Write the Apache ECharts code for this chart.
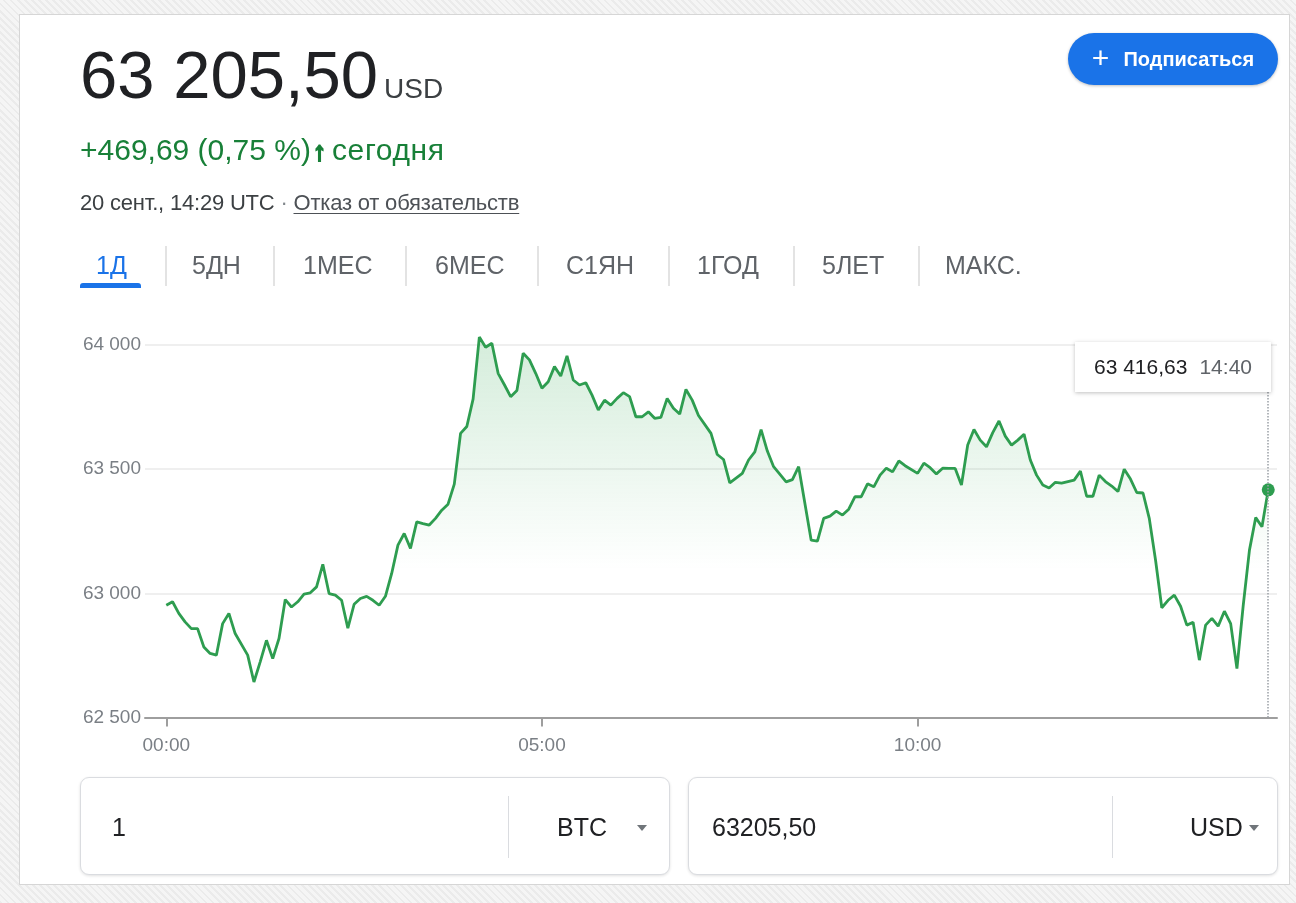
<!DOCTYPE html>
<html lang="ru">
<head>
<meta charset="utf-8">
<title>BTC / USD</title>
<script src="https://cdn.jsdelivr.net/npm/echarts@6/dist/echarts.min.js"></script>
<style>
  html, body { margin: 0; padding: 0; }
  body {
    width: 1296px; height: 903px; position: relative; overflow: hidden;
    font-family: "Liberation Sans", Arial, sans-serif;
    background: repeating-linear-gradient(45deg, #ebebeb 0 2px, #f5f5f5 2px 5px);
  }
  .card { position: absolute; left: 19px; top: 14px; width: 1271px; height: 871px;
    background: #fff; border: 1px solid #d6d6d6; box-sizing: border-box; }
  #chart { position: absolute; left: 0; top: 0; width: 1296px; height: 903px; }
  .t { position: absolute; line-height: 1; white-space: nowrap; }
  .price { left: 80px; top: 41px; font-size: 67px; color: #202124; }
  .price span { font-size: 28px; color: #3c4043; margin-left: 6px; }
  .change { left: 80px; top: 135px; font-size: 30px; color: #188038; }
  .change b { -webkit-text-stroke: 2px #188038; font-size: 26px; margin: 0 6px 0 2px; }
  .change .d { letter-spacing: 0.6px; }
  .date { left: 80px; top: 192px; font-size: 22px; color: #3c4043; letter-spacing: -0.2px; }
  .date .dot { color: #80868b; }
  .date u { color: #4d5156; text-decoration-thickness: 1px; text-underline-offset: 3px; }
  .tab { top: 253px; font-size: 25px; color: #5f6368; }
  .tab.on { color: #1a73e8; }
  .sep { position: absolute; top: 246px; width: 2px; height: 40px; background: #e3e3e3; }
  .bar { position: absolute; left: 80px; top: 283px; width: 61px; height: 5px;
    background: #1a73e8; border-radius: 3px 3px 0 0; }
  .btn { position: absolute; left: 1068px; top: 33px; width: 210px; height: 52px;
    border-radius: 26px; background: #1a73e8; color: #fff; box-shadow: 0 1px 3px rgba(0,0,0,.25);
    display: flex; align-items: center; justify-content: center; font-size: 20px; font-weight: bold; }
  .btn .plus { font-size: 30px; font-weight: normal; margin-right: 14px; margin-top: -3px; }
  .tip { position: absolute; left: 1075px; top: 342px; width: 196px; height: 50px; background: #fff;
    box-shadow: 0 1px 4px rgba(0,0,0,.25); display: flex; align-items: center; justify-content: center;
    font-size: 21px; color: #202124; }
  .tip .tm { color: #5f6368; margin-left: 12px; }
  .box { position: absolute; top: 777px; width: 590px; height: 98px; border: 1px solid #dadce0;
    border-radius: 9px; box-sizing: border-box; background: #fff; box-shadow: 0 1px 3px rgba(0,0,0,.12); }
  .box .v { position: absolute; top: 37px; font-size: 25px; color: #202124; line-height: 1; }
  .box .dv { position: absolute; top: 18px; width: 1px; height: 62px; background: #dadce0; }
  .box .arr { position: absolute; top: 47px; width: 0; height: 0;
    border-left: 5px solid transparent; border-right: 5px solid transparent; border-top: 6px solid #70757a; }
</style>
</head>
<body>
<div class="card"></div>
<div id="chart"></div>

<div class="t price">63 205,50<span>USD</span></div>
<div class="t change">+469,69 (0,75 %)<b>↑</b><span class="d">сегодня</span></div>
<div class="t date">20 сент., 14:29 UTC <span class="dot">·</span> <u>Отказ от обязательств</u></div>

<div class="t tab on" style="left:96px">1Д</div>
<div class="t tab" style="left:192px">5ДН</div>
<div class="t tab" style="left:303px">1МЕС</div>
<div class="t tab" style="left:435px">6МЕС</div>
<div class="t tab" style="left:566px">С1ЯН</div>
<div class="t tab" style="left:697px">1ГОД</div>
<div class="t tab" style="left:822px">5ЛЕТ</div>
<div class="t tab" style="left:945px">МАКС.</div>
<div class="sep" style="left:165px"></div>
<div class="sep" style="left:273px"></div>
<div class="sep" style="left:405px"></div>
<div class="sep" style="left:537px"></div>
<div class="sep" style="left:668px"></div>
<div class="sep" style="left:793px"></div>
<div class="sep" style="left:918px"></div>
<div class="bar"></div>

<div class="btn"><span class="plus">+</span>Подписаться</div>

<div class="tip"><span id="tipPrice"></span><span class="tm" id="tipTime"></span></div>

<div class="box" style="left:80px">
  <div class="v" style="left:31px">1</div>
  <div class="dv" style="left:427px"></div>
  <div class="v" style="left:476px">BTC</div>
  <div class="arr" style="left:556px"></div>
</div>
<div class="box" style="left:688px">
  <div class="v" style="left:23px">63205,50</div>
  <div class="dv" style="left:423px"></div>
  <div class="v" style="left:501px">USD</div>
  <div class="arr" style="left:560px"></div>
</div>

<script>
// BTC/USD intraday, 20 Sept, 5-minute points (UTC)
var times = [
  '00:00','00:05','00:10','00:15','00:20','00:25','00:30','00:35','00:40','00:45','00:50','00:55',
  '01:05','01:10','01:15','01:20','01:25','01:30','01:35','01:40','01:45','01:50','01:55',
  '02:00','02:05','02:10','02:15','02:20','02:25','02:30','02:35','02:40','02:45','02:50','02:55',
  '03:00','03:05','03:10','03:15','03:20','03:25','03:30','03:35','03:40','03:45','03:50','03:55',
  '04:00','04:05','04:10','04:15','04:20','04:25','04:30','04:35','04:40','04:45','04:50','04:55',
  '05:00','05:05','05:10','05:15','05:20','05:25','05:30','05:35','05:40','05:45','05:50','05:55',
  '06:00','06:05','06:10','06:15','06:20','06:25','06:30','06:35','06:40','06:45','06:50','06:55',
  '07:00','07:05','07:15','07:20','07:25','07:30','07:40','07:45','07:50','07:55',
  '08:00','08:05','08:15','08:20','08:25','08:35','08:40','08:45','08:50','08:55',
  '09:00','09:05','09:10','09:15','09:20','09:25','09:30','09:35','09:40','09:45','09:50',
  '10:00','10:05','10:10','10:15','10:20','10:25','10:30','10:35','10:40','10:45','10:50','10:55',
  '11:00','11:05','11:10','11:15','11:20','11:25','11:30','11:35','11:40','11:45','11:50','11:55',
  '12:00','12:05','12:10','12:15','12:20','12:25','12:30','12:35','12:40','12:45','12:50','12:55',
  '13:00','13:05','13:10','13:15','13:20','13:25','13:30','13:35','13:40','13:45','13:50','13:55',
  '14:00','14:05','14:10','14:15','14:20','14:25','14:30','14:35','14:40'
];
var prices = [
  62952,62966,62919,62885,62858,62858,62784,62758,62751,62878,62919,62838,
  62751,62643,62724,62811,62737,62818,62975,62945,62966,62997,63002,
  63026,63117,62999,62993,62972,62860,62956,62979,62988,62972,62952,62988,
  63080,63194,63241,63181,63288,63281,63275,63302,63335,63359,63440,63644,
  63672,63782,64032,63991,64007,63886,63840,63792,63817,63967,63940,63886,
  63826,63852,63913,63875,63956,63859,63839,63848,63798,63738,63778,63758,
  63785,63808,63792,63711,63711,63731,63705,63709,63785,63745,63722,63821,
  63778,63716,63644,63559,63539,63445,63483,63537,63570,63659,
  63573,63510,63449,63458,63510,63214,63210,63302,63311,63331,
  63315,63339,63389,63389,63441,63429,63476,63504,63489,63533,63514,
  63483,63524,63506,63481,63504,63503,63503,63436,63597,63660,63617,63590,
  63647,63694,63633,63597,63617,63641,63537,63476,63436,63424,63447,63444,
  63450,63456,63492,63391,63391,63476,63450,63432,63410,63500,63460,63406,
  63404,63302,63134,62942,62972,62993,62948,62872,62884,62731,62872,62899,
  62868,62928,62878,62697,62950,63174,63305,63268,63416.63
];
var xTickLabels = ['00:00', '05:00', '10:00'];
var yTicks = [62500, 63000, 63500, 64000];

function toMin(s) { var p = s.split(':'); return +p[0] * 60 + +p[1]; }
function toHHMM(m) {
  var h = Math.floor(m / 60), mm = m % 60;
  return (h < 10 ? '0' : '') + h + ':' + (mm < 10 ? '0' : '') + mm;
}
function groupInt(n) { return String(Math.floor(n)).replace(/\B(?=(\d{3})+(?!\d))/g, ' '); }
function fmtPrice(v) {
  var cents = Math.round((v - Math.floor(v)) * 100);
  return groupInt(v) + ',' + (cents < 10 ? '0' : '') + cents;
}

var seriesData = times.map(function (t, i) { return [toMin(t), prices[i]]; });
var last = seriesData.length - 1;
var tickMins = xTickLabels.map(toMin);

document.getElementById('tipPrice').textContent = fmtPrice(prices[last]);
document.getElementById('tipTime').textContent = times[last];

var chart = echarts.init(document.getElementById('chart'));
chart.setOption({
  animation: false,
  grid: { left: 145, right: 19, top: 345, bottom: 185.5 },
  xAxis: {
    type: 'value',
    min: -17,
    max: 887,
    splitLine: { show: false },
    axisLine: { lineStyle: { color: '#9e9e9e', width: 2 } },
    axisTick: { customValues: tickMins, length: 9, lineStyle: { color: '#9e9e9e', width: 2 } },
    axisLabel: {
      customValues: tickMins,
      formatter: function (v) { return toHHMM(v); },
      color: '#7a7f85', fontSize: 19, margin: 19,
      fontFamily: 'Liberation Sans'
    }
  },
  yAxis: {
    type: 'value',
    min: yTicks[0],
    max: yTicks[yTicks.length - 1],
    interval: 500,
    axisLine: { show: false },
    axisTick: { show: false },
    axisLabel: {
      formatter: function (v) { return groupInt(v); },
      color: '#7a7f85', fontSize: 19, margin: 4,
      fontFamily: 'Liberation Sans'
    },
    splitLine: { lineStyle: { color: '#efefef', width: 2 } }
  },
  series: [{
    type: 'line',
    data: seriesData,
    clip: false,
    showSymbol: true,
    showAllSymbol: true,
    symbol: 'circle',
    symbolSize: function (v, p) { return p.dataIndex === last ? 13 : 0; },
    itemStyle: { color: '#2e9d50' },
    lineStyle: { color: '#2e9d50', width: 2.8 },
    areaStyle: {
      origin: 'start',
      color: {
        type: 'linear', x: 0, y: 335, x2: 0, y2: 570, global: true,
        colorStops: [
          { offset: 0, color: 'rgba(52,168,83,0.30)' },
          { offset: 1, color: 'rgba(52,168,83,0)' }
        ]
      }
    },
    markLine: {
      silent: true,
      symbol: ['none', 'none'],
      label: { show: false },
      lineStyle: { type: 'dotted', color: '#9aa0a6', width: 1.5 },
      data: [{ xAxis: seriesData[last][0] }]
    }
  }]
});
</script>
</body>
</html>
